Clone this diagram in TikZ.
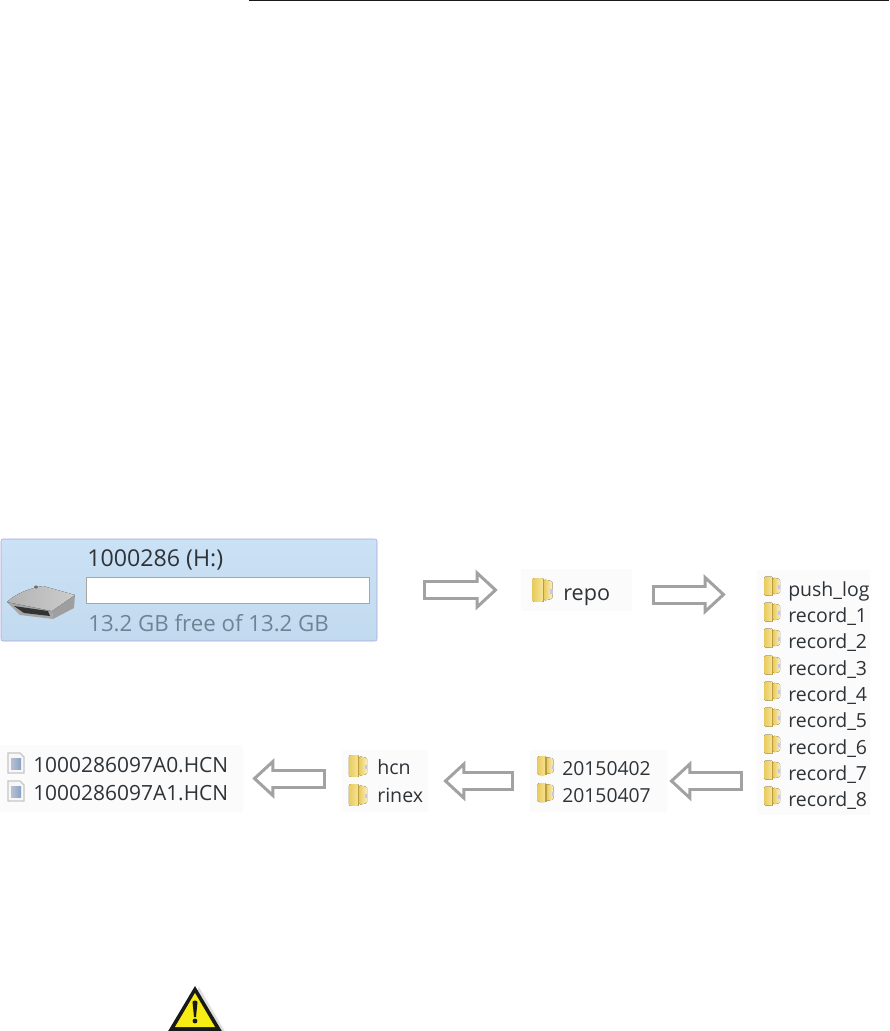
\documentclass[tikz,border=0pt]{standalone}
\usepackage{fontspec}
\setmainfont{Open Sans}
\usepackage{tikz}
\usetikzlibrary{arrows.meta, positioning, calc}
\definecolor{arrowgray}{HTML}{A2A2A2}
\definecolor{labelgray}{HTML}{2E3338}
\definecolor{freegray}{HTML}{6E8496}
\definecolor{warnyellow}{HTML}{F7EC13}
\definecolor{folderlight}{HTML}{F6E79A}
\definecolor{foldermid}{HTML}{E9CB5E}
\definecolor{folderfold}{HTML}{BE9C3E}
\definecolor{drivetop}{HTML}{CBE1F5}
\definecolor{drivebottom}{HTML}{C2DAEF}
\tikzset{
	folder/.pic={
		\fill[rounded corners=1.5,left color=foldermid,right color=folderlight] (-8,-9.5) rectangle (1,9.5);
		\fill[rounded corners=1,left color=foldermid,right color=folderlight!60!white] (1,-8.5) -- (8,-7) -- (8,7) -- (1,8.5) -- cycle;
		\fill[gray!50!blue!30] (6.2,-1) rectangle (8,3);
		\draw[folderfold,line width=0.9pt] (0.5,-9) -- (0.5,9.5);
	},
	hcnfile/.pic={
		\draw[gray!45,fill=gray!6,line width=1pt] (-8,-10) -- (4,-10) -- (8,-6) -- (8,10) -- (-8,10) -- cycle;
		\fill[left color=cyan!25!blue!22!gray!45,right color=cyan!45!blue!35!gray!70] (-5,-5) rectangle (5,6);
	}
}
\begin{document}
\begin{tikzpicture}[
	x=0.75pt,y=-0.75pt,
	listbox/.style={rectangle,fill=black!1.5,minimum width=#1,inner sep=0pt},
	rowlabel/.style={anchor=west,inner sep=0pt,text=labelgray,text height=14pt,text depth=2pt},
	blockarrow/.style n args={2}{draw=arrowgray,line width=15pt,shorten <=#1,shorten >=#2,
		-{Triangle[length=16.5pt,width=30pt,open,line width=2.25pt,fill=white]},
		postaction={draw=white,line width=10.5pt,arrows=-,shorten <=#1+2.25pt,shorten >=#2+14pt}}
]
\useasboundingbox (0,0) rectangle (889,1031);

% Page rule
\coordinate (ruleL) at (249,0.5);
\coordinate (ruleR) at (889,0.5);
\draw[line width=1.1pt,black!90] (ruleL) -- (ruleR);

% Drive
\node[rectangle,draw=gray!60!blue!50,rounded corners=1.5pt,top color=drivetop,bottom color=drivebottom,minimum width=282pt,minimum height=76.5pt,inner sep=0pt] (drive) at (189,590) {};
\node[rectangle,draw=gray!70,fill=white,minimum width=212pt,minimum height=19.5pt,inner sep=0pt] (bar) at (227.5,590) {};
\node[rowlabel,font=\fontsize{17.4pt}{20pt}\selectfont] (drivename) at (87,558) {1000286 (H:)};
\node[rowlabel,text=freegray,font=\fontsize{16.7pt}{20pt}\selectfont] (drivefree) at (88,623) {13.2 GB free of 13.2 GB};
\fill[gray!75] (52,611) -- (75,595) -- (74,608) -- (53,619) -- cycle;
\fill[gray!70] (7,602) -- (52,611) -- (53,619) -- (20,615) -- cycle;
\fill[left color=gray!60,right color=gray!40] (7,602) .. controls (15,594) and (30,588) .. (43,586) -- (75,595) -- (52,611) -- cycle;
\fill[gray!85!black] (36,587) ellipse (2 and 1.5);
\fill[black!80] (14,606) -- (48,611) -- (50,616) -- (24,613) -- cycle;

% Repo
\node[listbox=83.25pt,minimum height=31.5pt] (repobox) at (576.5,590) {};
\pic[scale=1.25] at (542.5,590) {folder};
\node[rowlabel,font=\fontsize{16.2pt}{20pt}\selectfont] (repo) at (563,592) {repo};

% Records
\node[listbox=84.75pt,minimum height=183.75pt] (reclist) at (813.5,692.5) {};
\pic at (772,586) {folder};
\pic at (772,612) {folder};
\pic at (772,638) {folder};
\pic at (772,665) {folder};
\pic at (772,691) {folder};
\pic at (772,717) {folder};
\pic at (772,744) {folder};
\pic at (772,770) {folder};
\pic at (772,796) {folder};
\node[rowlabel,font=\fontsize{14.6pt}{20pt}\selectfont] (pushlog) at (788,588) {push\_log};
\node[rowlabel,font=\fontsize{14.6pt}{20pt}\selectfont] (rec1) at (788,614) {record\_1};
\node[rowlabel,font=\fontsize{14.6pt}{20pt}\selectfont] (rec2) at (788,640) {record\_2};
\node[rowlabel,font=\fontsize{14.6pt}{20pt}\selectfont] (rec3) at (788,667) {record\_3};
\node[rowlabel,font=\fontsize{14.6pt}{20pt}\selectfont] (rec4) at (788,693) {record\_4};
\node[rowlabel,font=\fontsize{14.6pt}{20pt}\selectfont] (rec5) at (788,719) {record\_5};
\node[rowlabel,font=\fontsize{14.6pt}{20pt}\selectfont] (rec6) at (788,746) {record\_6};
\node[rowlabel,font=\fontsize{14.6pt}{20pt}\selectfont] (rec7) at (788,772) {record\_7};
\node[rowlabel,font=\fontsize{14.6pt}{20pt}\selectfont] (rec8) at (788,798) {record\_8};

% Dates
\node[listbox=102.75pt,minimum height=46.5pt] (datelist) at (598.5,781) {};
\pic at (545.5,765.5) {folder};
\pic at (545.5,792.5) {folder};
\node[rowlabel,font=\fontsize{14.5pt}{20pt}\selectfont] (date1) at (562,767) {20150402};
\node[rowlabel,font=\fontsize{14.5pt}{20pt}\selectfont] (date2) at (562,794) {20150407};

% Data folders
\node[listbox=64.5pt,minimum height=46.5pt] (datalist) at (385,781) {};
\pic[scale=1.15] at (358,766) {folder};
\pic[scale=1.15] at (358,795) {folder};
\node[rowlabel,font=\fontsize{14.7pt}{20pt}\selectfont] (hcn) at (377,766) {hcn};
\node[rowlabel,font=\fontsize{14.7pt}{20pt}\selectfont] (rinex) at (377,794) {rinex};

% Files
\node[listbox=182.25pt,minimum height=50.25pt] (filelist) at (121.5,778.5) {};
\pic at (16,763) {hcnfile};
\pic at (16,791) {hcnfile};
\node[rowlabel,font=\fontsize{15.7pt}{20pt}\selectfont] (file0) at (33,764) {1000286097A0.HCN};
\node[rowlabel,font=\fontsize{15.7pt}{20pt}\selectfont] (file1) at (33,792) {1000286097A1.HCN};

% Arrows
\draw[blockarrow={34.5pt}{17.25pt}] (drive.east) -- (repobox.west);
\draw[blockarrow={15pt}{23.25pt}] ([yshift=-3.4pt]repobox.east) -- ([yshift=-3.4pt]repobox.east -| reclist.west);
\draw[blockarrow={10.5pt}{1.5pt}] (reclist.west |- datelist) -- (datelist.east);
\draw[blockarrow={12pt}{11.25pt}] (datelist.west) -- (datalist.east);
\draw[blockarrow={12pt}{6.75pt}] (datalist.west |- filelist) -- (filelist.east);

% Warning sign
\fill[gray!25] (199,987) -- (227,1035) -- (172,1035) -- cycle;
\fill[black!90] (195,986) -- (223,1033) -- (167,1033) -- cycle;
\fill[warnyellow] (195,993) -- (215,1027) -- (175,1027) -- cycle;
\fill[black!90] (192.5,1002) .. controls (193,1000) and (197,1000) .. (197.5,1002) -- (196,1017) -- (194,1017) -- cycle;
\fill[black!90] (195,1021) circle (2.4);

\end{tikzpicture}
\end{document}
